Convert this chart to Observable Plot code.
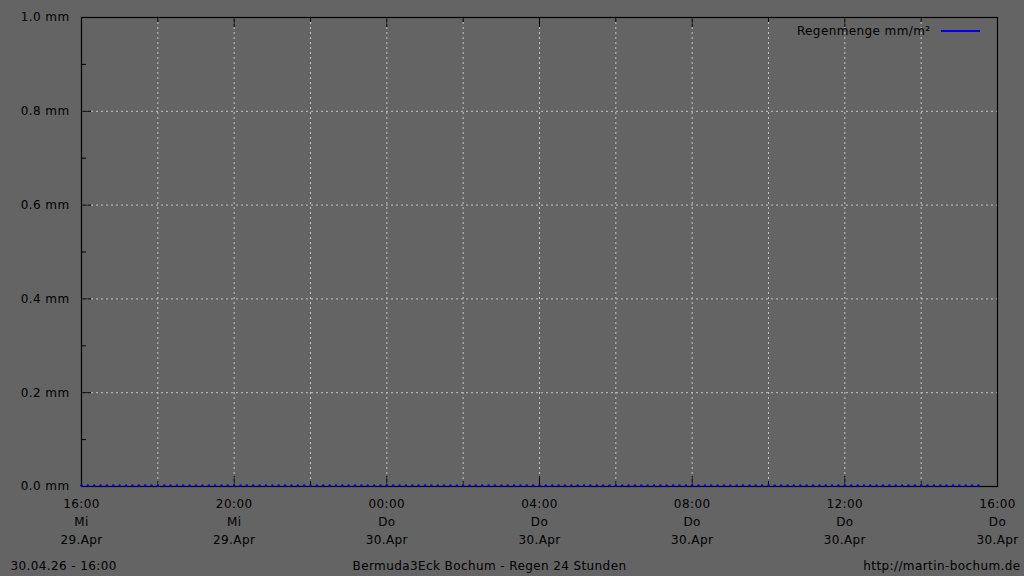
<!DOCTYPE html>
<html><head><meta charset="utf-8">
<script src="https://cdn.jsdelivr.net/npm/d3@7"></script>
<script src="https://cdn.jsdelivr.net/npm/@observablehq/plot@0.6"></script>
<style>html,body{margin:0;padding:0;background:#646464;} svg{display:block}</style>
</head><body><div id="chart"></div>
<script>
const times = [
"2026-04-29T16:00","2026-04-29T16:10","2026-04-29T16:20","2026-04-29T16:30","2026-04-29T16:40","2026-04-29T16:50",
"2026-04-29T17:00","2026-04-29T17:10","2026-04-29T17:20","2026-04-29T17:30","2026-04-29T17:40","2026-04-29T17:50",
"2026-04-29T18:00","2026-04-29T18:10","2026-04-29T18:20","2026-04-29T18:30","2026-04-29T18:40","2026-04-29T18:50",
"2026-04-29T19:00","2026-04-29T19:10","2026-04-29T19:20","2026-04-29T19:30","2026-04-29T19:40","2026-04-29T19:50",
"2026-04-29T20:00","2026-04-29T20:10","2026-04-29T20:20","2026-04-29T20:30","2026-04-29T20:40","2026-04-29T20:50",
"2026-04-29T21:00","2026-04-29T21:10","2026-04-29T21:20","2026-04-29T21:30","2026-04-29T21:40","2026-04-29T21:50",
"2026-04-29T22:00","2026-04-29T22:10","2026-04-29T22:20","2026-04-29T22:30","2026-04-29T22:40","2026-04-29T22:50",
"2026-04-29T23:00","2026-04-29T23:10","2026-04-29T23:20","2026-04-29T23:30","2026-04-29T23:40","2026-04-29T23:50",
"2026-04-30T00:00","2026-04-30T00:10","2026-04-30T00:20","2026-04-30T00:30","2026-04-30T00:40","2026-04-30T00:50",
"2026-04-30T01:00","2026-04-30T01:10","2026-04-30T01:20","2026-04-30T01:30","2026-04-30T01:40","2026-04-30T01:50",
"2026-04-30T02:00","2026-04-30T02:10","2026-04-30T02:20","2026-04-30T02:30","2026-04-30T02:40","2026-04-30T02:50",
"2026-04-30T03:00","2026-04-30T03:10","2026-04-30T03:20","2026-04-30T03:30","2026-04-30T03:40","2026-04-30T03:50",
"2026-04-30T04:00","2026-04-30T04:10","2026-04-30T04:20","2026-04-30T04:30","2026-04-30T04:40","2026-04-30T04:50",
"2026-04-30T05:00","2026-04-30T05:10","2026-04-30T05:20","2026-04-30T05:30","2026-04-30T05:40","2026-04-30T05:50",
"2026-04-30T06:00","2026-04-30T06:10","2026-04-30T06:20","2026-04-30T06:30","2026-04-30T06:40","2026-04-30T06:50",
"2026-04-30T07:00","2026-04-30T07:10","2026-04-30T07:20","2026-04-30T07:30","2026-04-30T07:40","2026-04-30T07:50",
"2026-04-30T08:00","2026-04-30T08:10","2026-04-30T08:20","2026-04-30T08:30","2026-04-30T08:40","2026-04-30T08:50",
"2026-04-30T09:00","2026-04-30T09:10","2026-04-30T09:20","2026-04-30T09:30","2026-04-30T09:40","2026-04-30T09:50",
"2026-04-30T10:00","2026-04-30T10:10","2026-04-30T10:20","2026-04-30T10:30","2026-04-30T10:40","2026-04-30T10:50",
"2026-04-30T11:00","2026-04-30T11:10","2026-04-30T11:20","2026-04-30T11:30","2026-04-30T11:40","2026-04-30T11:50",
"2026-04-30T12:00","2026-04-30T12:10","2026-04-30T12:20","2026-04-30T12:30","2026-04-30T12:40","2026-04-30T12:50",
"2026-04-30T13:00","2026-04-30T13:10","2026-04-30T13:20","2026-04-30T13:30","2026-04-30T13:40","2026-04-30T13:50",
"2026-04-30T14:00","2026-04-30T14:10","2026-04-30T14:20","2026-04-30T14:30","2026-04-30T14:40","2026-04-30T14:50",
"2026-04-30T15:00","2026-04-30T15:10","2026-04-30T15:20","2026-04-30T15:30"
];
const rain = [
0,0,0,0,0,0, 0,0,0,0,0,0, 0,0,0,0,0,0, 0,0,0,0,0,0,
0,0,0,0,0,0, 0,0,0,0,0,0, 0,0,0,0,0,0, 0,0,0,0,0,0,
0,0,0,0,0,0, 0,0,0,0,0,0, 0,0,0,0,0,0, 0,0,0,0,0,0,
0,0,0,0,0,0, 0,0,0,0,0,0, 0,0,0,0,0,0, 0,0,0,0,0,0,
0,0,0,0,0,0, 0,0,0,0,0,0, 0,0,0,0,0,0, 0,0,0,0,0,0,
0,0,0,0,0,0, 0,0,0,0,0,0, 0,0,0,0,0,0, 0,0,0,0
];
const xTickTimes = ["2026-04-29T16:00","2026-04-29T20:00","2026-04-30T00:00","2026-04-30T04:00","2026-04-30T08:00","2026-04-30T12:00","2026-04-30T16:00"];
const xTickHours = ["16:00","20:00","00:00","04:00","08:00","12:00","16:00"];
const xTickDays  = ["Mi","Mi","Do","Do","Do","Do","Do"];
const xTickDates = ["29.Apr","29.Apr","30.Apr","30.Apr","30.Apr","30.Apr","30.Apr"];
const xMinorTimes = ["2026-04-29T18:00","2026-04-29T22:00","2026-04-30T02:00","2026-04-30T06:00","2026-04-30T10:00","2026-04-30T14:00"];
const yTicks = [0, 0.2, 0.4, 0.6, 0.8, 1.0];
const yMinor = [0.1, 0.3, 0.5, 0.7, 0.9];
const seriesName = "Regenmenge mm/m²";
const footerLeft = "30.04.26 - 16:00";
const footerCenter = "Bermuda3Eck Bochum - Regen 24 Stunden";
const footerRight = "http://martin-bochum.de";

const W = 1024, H = 576, mL = 81, mR = 27, mT = 17, mB = 90;
const innerH = H - mT - mB, innerW = W - mL - mR;
const data = times.map((t, i) => ({t: new Date(t), v: rain[i]}));
const majors = xTickTimes.map(t => new Date(t));
const minors = xMinorTimes.map(t => new Date(t));
const labelMap = new Map(majors.map((d, i) => [+d, xTickHours[i] + "\n" + xTickDays[i] + "\n" + xTickDates[i]]));
const x0 = majors[0], x1 = majors[majors.length - 1];
const gridX = [...majors, ...minors].filter(d => d > x0 && d < x1);
const gridY = yTicks.filter(v => v > 0 && v < 1);
const grid = {stroke: "#c4c4c4", strokeDasharray: "2,3", strokeWidth: 1};
const blk = {stroke: "#000", strokeWidth: 1};
const txt = {fill: "#000", fontSize: 12};

const plot = Plot.plot({
  width: W, height: H, marginLeft: mL, marginRight: mR, marginTop: mT, marginBottom: mB,
  style: {background: "#646464", color: "#000", fontFamily: "DejaVu Sans", fontSize: "12px", letterSpacing: "0.4px"},
  x: {type: "time", domain: [x0, x1], label: null},
  y: {domain: [0, 1], label: null},
  marks: [
    Plot.ruleX(gridX, {...grid}),
    Plot.ruleY(gridY, {...grid}),
    Plot.ruleX(majors, {...blk, insetTop: innerH - 10}),
    Plot.ruleX(majors, {...blk, insetBottom: innerH - 10}),
    Plot.ruleX(minors, {...blk, insetTop: innerH - 5}),
    Plot.ruleX(minors, {...blk, insetBottom: innerH - 5}),
    Plot.ruleY(yTicks, {...blk, insetRight: innerW - 10}),
    Plot.ruleY(yMinor, {...blk, insetRight: innerW - 5}),
    Plot.frame({stroke: "#000", strokeWidth: 1.2}),
    Plot.axisX(majors, {tickSize: 0, tickPadding: 9, tickFormat: d => labelMap.get(+d), lineHeight: 1.5, label: null, ...txt}),
    Plot.axisY(yTicks, {tickSize: 0, tickPadding: 12, tickFormat: d => d.toFixed(1) + " mm", label: null, ...txt}),
    Plot.dot(data, {x: "t", y: "v", r: 1.3, fill: "#0000ff", stroke: null, dy: -1}),
    Plot.text([seriesName], {text: d => d, frameAnchor: "top-right", dx: -67, dy: 14, textAnchor: "end", lineAnchor: "middle", ...txt}),
    Plot.text([footerLeft], {text: d => d, frameAnchor: "bottom-left", dx: -71, dy: 80, textAnchor: "start", lineAnchor: "middle", ...txt}),
    Plot.text([footerCenter], {text: d => d, frameAnchor: "bottom", dx: -50, dy: 80, textAnchor: "middle", lineAnchor: "middle", ...txt}),
    Plot.text([footerRight], {text: d => d, frameAnchor: "bottom-right", dx: 23, dy: 80, textAnchor: "end", lineAnchor: "middle", ...txt})
  ]
});
// legend swatch line next to the series name
d3.select(plot).append("line")
  .attr("x1", W - mR - 56).attr("x2", W - mR - 17)
  .attr("y1", mT + 14).attr("y2", mT + 14)
  .attr("stroke", "#0000ff").attr("stroke-width", 2);
document.getElementById("chart").appendChild(plot);
</script>
</body></html>
